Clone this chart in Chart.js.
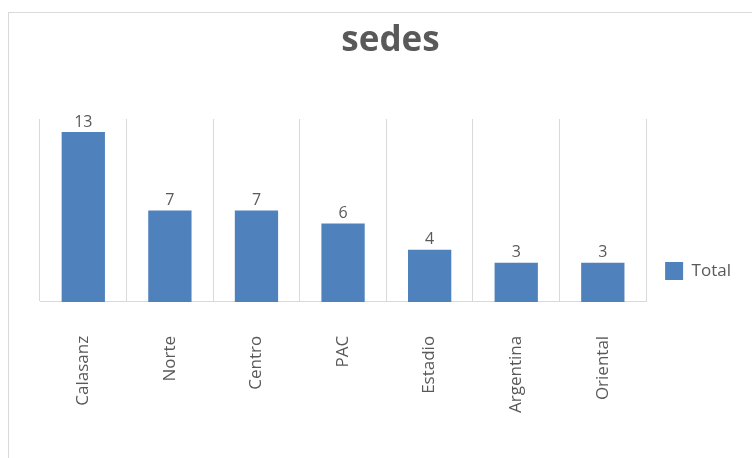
<!DOCTYPE html>
<html>
<head>
<meta charset="utf-8">
<script src="https://cdn.jsdelivr.net/npm/chart.js@4.4.1/dist/chart.umd.min.js"></script>
<style>
  html, body { margin: 0; padding: 0; background: #fff; overflow: hidden; }
  #card {
    position: absolute; left: 8px; top: 12px;
    width: 755px; height: 445px;
    border-left: 1px solid #d9d9d9; border-top: 1px solid #d9d9d9;
  }
</style>
</head>
<body>
<div id="card"><canvas id="chart" width="755" height="445"></canvas></div>
<script>
'use strict';

var sedes = ['Calasanz', 'Norte', 'Centro', 'PAC', 'Estadio', 'Argentina', 'Oriental'];
var totals = [13, 7, 7, 6, 4, 3, 3];
var seriesName = 'Total';
var yMax = 14;

var barColor = '#4f81bd';
var textColor = '#595959';
var gridColor = '#d9d9d9';

// draws the value above each bar, Excel style
var valueLabels = {
    id: 'valueLabels',
    afterDatasetsDraw: function (chart) {
        var ctx = chart.ctx;
        ctx.save();
        ctx.font = '16px "Open Sans"';
        ctx.fillStyle = textColor;
        ctx.textAlign = 'center';
        ctx.textBaseline = 'bottom';
        chart.getDatasetMeta(0).data.forEach(function (bar, i) {
            ctx.fillText(String(totals[i]), bar.x, bar.y - 2);
        });
        ctx.restore();
    }
};

var ctx = document.getElementById('chart');
var myChart = new Chart(ctx, {
    type: 'bar',
    data: {
        labels: sedes,
        datasets: [{
            label: seriesName,
            data: totals,
            backgroundColor: barColor,
            borderWidth: 0,
            barPercentage: 0.5,
            categoryPercentage: 1
        }]
    },
    options: {
        responsive: false,
        animation: false,
        layout: {
            padding: { left: 31, right: 23, top: 0, bottom: 11 }
        },
        plugins: {
            title: {
                display: true,
                text: 'sedes',
                color: textColor,
                font: { family: '"Open Sans"', size: 35, weight: 'bold' },
                padding: { top: 7, bottom: 57 }
            },
            legend: {
                position: 'right',
                // empty title only pushes the item down to where Excel puts it
                title: { display: true, text: '', padding: { top: 70, bottom: 0 }, font: { size: 10 } },
                labels: {
                    boxWidth: 18,
                    boxHeight: 18,
                    padding: 19,
                    color: textColor,
                    font: { family: '"Open Sans"', size: 17 }
                }
            },
            tooltip: { enabled: false }
        },
        scales: {
            x: {
                grid: { display: true, offset: true, color: gridColor, drawTicks: false },
                border: { display: true, color: gridColor, width: 1 },
                ticks: {
                    minRotation: 90,
                    maxRotation: 90,
                    padding: 34,
                    color: textColor,
                    font: { family: '"Open Sans"', size: 17 }
                }
            },
            y: {
                display: false,
                min: 0,
                max: yMax
            }
        }
    },
    plugins: [valueLabels]
});
</script>
</body>
</html>
